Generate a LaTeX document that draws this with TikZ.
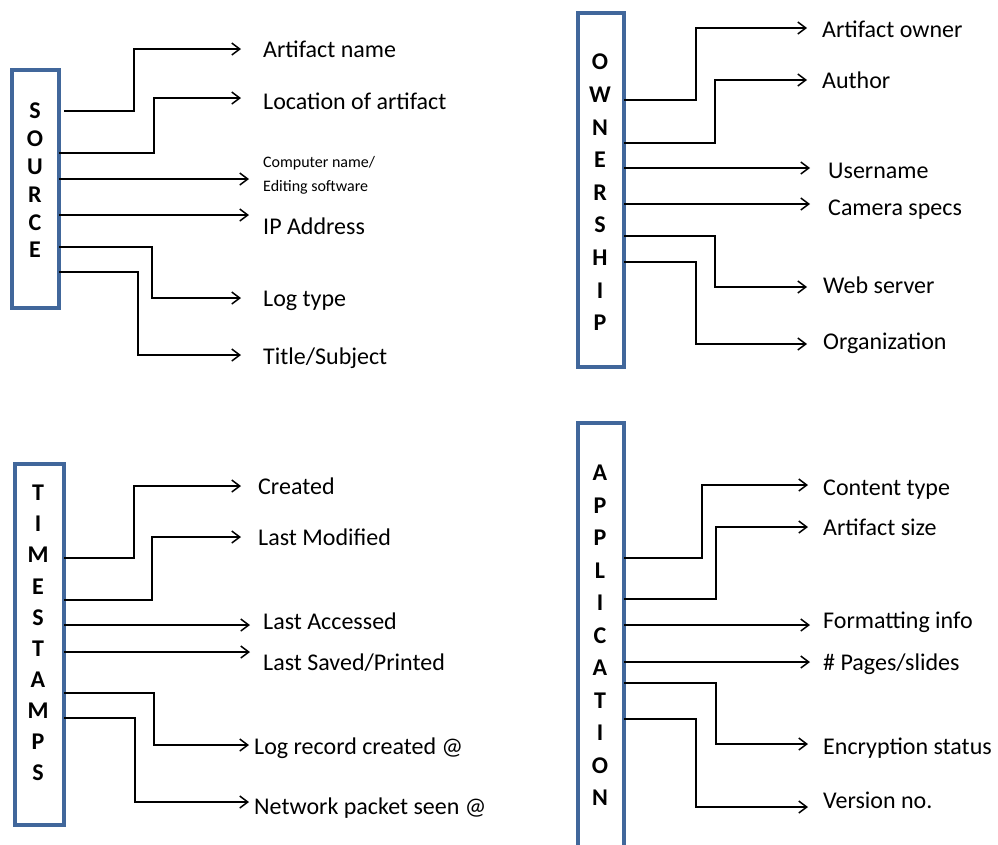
\documentclass[tikz,border=0pt]{standalone}
\usepackage{fontspec}
\setmainfont{Carlito}
\usetikzlibrary{arrows.meta}
\definecolor{boxblue}{HTML}{41679B}
\begin{document}
\begin{tikzpicture}[x=1pt,y=-1pt,
  catbox/.style={draw=boxblue,line width=3.2pt,fill=white,inner sep=0pt,outer sep=0pt,minimum width=#1},
  letters/.style={align=center,inner sep=0pt,font=\bfseries\fontsize{24}{#1}\selectfont},
  lbl/.style={anchor=west,inner sep=0pt,text height=16pt,text depth=0pt,font=\fontsize{24}{28}\selectfont},
  conn/.style={line width=1.6pt,-{Straight Barb[length=8pt,width=12pt,line width=1.5pt]}}]
\clip (0,0) rectangle (998,844);
\fill[white] (0,0) rectangle (998,844);

% ---------------- SOURCE ----------------
\node[catbox=47pt,minimum height=238pt] (src) at (35.5,189) {};
\node[letters=27.8pt] (srcT) at (35,180.5) {S\\O\\U\\R\\C\\E};
\node[lbl] (s1) at (263,49) {Artifact name};
\node[lbl] (s2) at (263,101) {Location of artifact};
\node[anchor=west,inner sep=0pt,align=left,font=\fontsize{16}{24}\selectfont] (s3) at (263,175) {Computer name/\\Editing software};
\node[lbl] (s4) at (263,226) {IP Address};
\node[lbl] (s5) at (263,298) {Log type};
\node[lbl] (s6) at (263,356) {Title/Subject};
\coordinate (s1e) at (241,49);
\coordinate (s2e) at (241,98);
\coordinate (s3e) at (249,179);
\coordinate (s4e) at (249,215);
\coordinate (s5e) at (241,298);
\coordinate (s6e) at (241,355);
\draw[conn] ([xshift=5pt]src.east |- 0,111) -| (134,49) -- (s1e);
\draw[conn] (src.east |- 0,153) -| (154,98) -- (s2e);
\draw[conn] (src.east |- 0,179) -- (s3e);
\draw[conn] (src.east |- 0,215) -- (s4e);
\draw[conn] (src.east |- 0,247) -| (152,298) -- (s5e);
\draw[conn] (src.east |- 0,272) -| (138,355) -- (s6e);

% ---------------- OWNERSHIP ----------------
\node[catbox=46pt,minimum height=354pt] (own) at (601,190) {};
\node[letters=32.6pt] (ownT) at (600,192.5) {O\\W\\N\\E\\R\\S\\H\\I\\P};
\node[lbl] (o1) at (822,29) {Artifact owner};
\node[lbl] (o2) at (822,80) {Author};
\node[lbl] (o3) at (828,170) {Username};
\node[lbl] (o4) at (828,207) {Camera specs};
\node[lbl] (o5) at (823,285) {Web server};
\node[lbl] (o6) at (823,341) {Organization};
\coordinate (o1e) at (807,28);
\coordinate (o2e) at (807,80);
\coordinate (o3e) at (810,168);
\coordinate (o4e) at (810,204);
\coordinate (o5e) at (807,287);
\coordinate (o6e) at (807,344);
\draw[conn] (own.east |- 0,100) -| (696,28) -- (o1e);
\draw[conn] (own.east |- 0,143) -| (715,80) -- (o2e);
\draw[conn] (own.east |- 0,168) -- (o3e);
\draw[conn] (own.east |- 0,204) -- (o4e);
\draw[conn] (own.east |- 0,236) -| (715,287) -- (o5e);
\draw[conn] (own.east |- 0,262) -| (696,344) -- (o6e);

% ---------------- TIMESTAMPS ----------------
\node[catbox=49pt,minimum height=361pt] (tim) at (39.5,644.5) {};
\node[letters=31.1pt] (timT) at (38,633) {T\\I\\M\\E\\S\\T\\A\\M\\P\\S};
\node[lbl] (t1) at (258,486) {Created};
\node[lbl] (t2) at (258,537) {Last Modified};
\node[lbl] (t3) at (263,621) {Last Accessed};
\node[lbl] (t4) at (263,662) {Last Saved/Printed};
\node[lbl] (t5) at (254,746) {Log record created @};
\node[lbl] (t6) at (254,806) {Network packet seen @};
\coordinate (t1e) at (241,486);
\coordinate (t2e) at (241,537);
\coordinate (t3e) at (250,625);
\coordinate (t4e) at (250,652);
\coordinate (t5e) at (249,745);
\coordinate (t6e) at (249,802);
\draw[conn] (tim.east |- 0,558) -| (134,486) -- (t1e);
\draw[conn] (tim.east |- 0,600) -| (152,537) -- (t2e);
\draw[conn] (tim.east |- 0,625) -- (t3e);
\draw[conn] (tim.east |- 0,652) -- (t4e);
\draw[conn] (tim.east |- 0,693) -| (154,745) -- (t5e);
\draw[conn] (tim.east |- 0,718) -| (135,802) -- (t6e);

% ---------------- APPLICATION ----------------
\node[catbox=46pt,minimum height=446pt] (app) at (601,646) {};
\node[letters=32.5pt] (appT) at (600,635.5) {A\\P\\P\\L\\I\\C\\A\\T\\I\\O\\N};
\node[lbl] (a1) at (823,487) {Content type};
\node[lbl] (a2) at (823,527) {Artifact size};
\node[lbl] (a3) at (823,620) {Formatting info};
\node[lbl] (a4) at (823,662) {\# Pages/slides};
\node[lbl] (a5) at (823,746) {Encryption status};
\node[lbl] (a6) at (823,800) {Version no.};
\coordinate (a1e) at (808,485);
\coordinate (a2e) at (808,527);
\coordinate (a3e) at (810,625);
\coordinate (a4e) at (810,662);
\coordinate (a5e) at (808,744);
\coordinate (a6e) at (808,807);
\draw[conn] (app.east |- 0,558) -| (702,485) -- (a1e);
\draw[conn] (app.east |- 0,599) -| (716,527) -- (a2e);
\draw[conn] (app.east |- 0,625) -- (a3e);
\draw[conn] (app.east |- 0,662) -- (a4e);
\draw[conn] (app.east |- 0,683) -| (716,744) -- (a5e);
\draw[conn] (app.east |- 0,719) -| (696,807) -- (a6e);
\end{tikzpicture}
\end{document}
